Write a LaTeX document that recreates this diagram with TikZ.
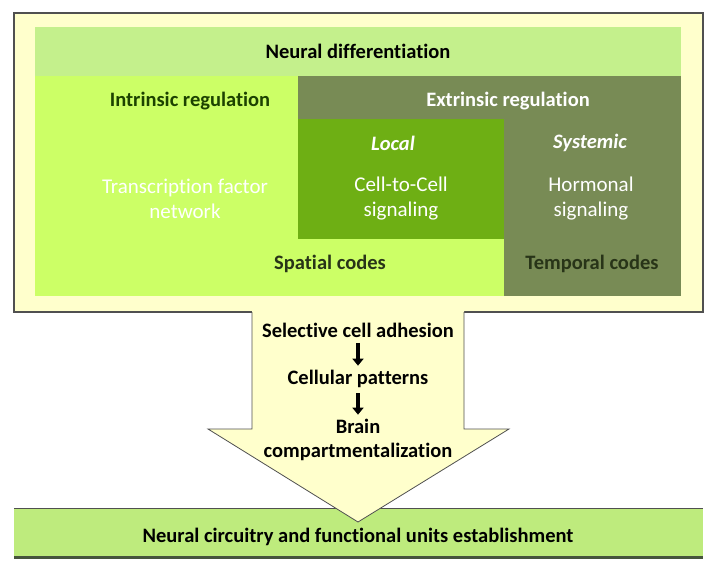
\documentclass[tikz,border=0pt]{standalone}
\usepackage{fontspec}
\setmainfont{Carlito}[Ligatures=NoCommon]
\usetikzlibrary{arrows.meta}
\definecolor{outeryellow}{RGB}{255,255,204}
\definecolor{headgreen}{RGB}{196,240,140}
\definecolor{lightgreen}{RGB}{204,255,102}
\definecolor{localgreen}{RGB}{110,175,20}
\definecolor{extrolive}{RGB}{120,139,85}
\definecolor{intrinsictext}{RGB}{28,66,0}
\definecolor{codetext}{RGB}{40,52,24}
\definecolor{framegray}{RGB}{80,80,80}
\definecolor{bottomgreen}{RGB}{190,235,125}
\definecolor{bottomedge}{RGB}{70,85,60}

\begin{document}
\begin{tikzpicture}[x=1pt,y=-1pt,
    boldlabel/.style={font=\fontsize{20.5}{24}\selectfont\bfseries, align=center},
    whitelabel/.style={font=\fontsize{21}{25}\selectfont, text=white, align=center},
    steparrow/.style={line width=4pt, -{Triangle[width=11pt,length=7pt]},
        shorten <=2pt, shorten >=1pt}]
    \useasboundingbox (0,0) rectangle (716,571);

    % outer frame and its coloured fields
    \draw[framegray, fill=outeryellow, line width=1.2pt] (14,13) rectangle (703,312);
    \fill[lightgreen] (35,27) rectangle (681,296);
    \fill[headgreen] (35,27) rectangle (681,76);
    \fill[extrolive] (298,76) rectangle (681,296);
    \fill[localgreen] (298,119) rectangle (504,239);
    \fill[lightgreen] (298,239) rectangle (504,296);

    \node[boldlabel] (neuraldiff) at (358,51) {Neural differentiation};
    \node[boldlabel, text=intrinsictext] (intrinsic) at (190,101) {Intrinsic regulation};
    \node[boldlabel, text=white] (extrinsic) at (508,101) {Extrinsic regulation};
    \node[boldlabel, text=white, font=\fontsize{20.5}{24}\selectfont\bfseries\itshape] (local) at (393,143) {Local};
    \node[boldlabel, text=white, font=\fontsize{20.5}{24}\selectfont\bfseries\itshape] (systemic) at (590,143) {Systemic};
    \node[whitelabel] (transfactor) at (185,199) {Transcription factor\\network};
    \node[whitelabel] (celltocell) at (401,199) {Cell-to-Cell\\signaling};
    \node[whitelabel] (hormonal) at (591,199) {Hormonal\\signaling};
    \node[boldlabel, text=codetext] (spatial) at (330,264) {Spatial codes};
    \node[boldlabel, text=codetext] (temporal) at (592,264) {Temporal codes};

    % bottom bar
    \fill[bottomgreen] (14,508) rectangle (703,558);
    \draw[framegray, line width=0.8pt] (14,508) -- (703,508);
    \draw[bottomedge, line width=3pt] (14,557) -- (703,557);
    \node[boldlabel] (circuitry) at (358,537) {Neural circuitry and functional units establishment};

    % big arrow
    \fill[outeryellow] (252,311) -- (252,429) -- (208,429) -- (358,522) -- (509,429) -- (464,429) -- (464,311) -- cycle;
    \draw[framegray, line width=0.8pt] (252,312) -- (252,429) -- (208,429) -- (358,522) -- (509,429) -- (464,429) -- (464,312);

    \node[boldlabel] (adhesion) at (358,330) {Selective cell adhesion};
    \node[boldlabel] (patterns) at (358,379) {Cellular patterns};
    \node[boldlabel] (brain) at (358,440) {Brain\\compartmentalization};
    \draw[steparrow] (adhesion) -- (patterns);
    \draw[steparrow] (patterns) -- (brain);
\end{tikzpicture}
\end{document}
